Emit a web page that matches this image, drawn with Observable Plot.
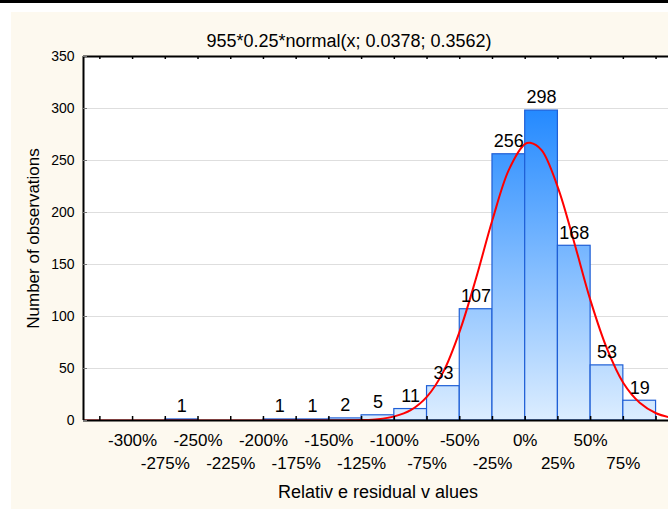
<!DOCTYPE html>
<html>
<head>
<meta charset="utf-8">
<script src="https://cdn.jsdelivr.net/npm/d3@7"></script>
<script src="https://cdn.jsdelivr.net/npm/@observablehq/plot@0.6"></script>
<style>
  body { margin: 0; background: #fff; }
  #wrap { position: relative; width: 668px; height: 509px; background: #fff; overflow: hidden; }
  #topbar { position: absolute; left: 0; top: 0; width: 668px; height: 3px; background: #000; }
  #panel { position: absolute; left: 11px; top: 12px; width: 657px; height: 497px; background: #fdf9ef; }
  #chart { position: absolute; left: 0; top: 0; }
</style>
</head>
<body>
<div id="wrap">
  <div id="topbar"></div>
  <div id="panel"></div>
  <div id="chart"></div>
</div>
<script>
// ---- data (percent units) ----
const binLow  = [-275, -200, -175, -150, -125, -100, -75, -50, -25, 0, 25, 50, 75];
const binHigh = [-250, -175, -150, -125, -100, -75, -50, -25, 0, 25, 50, 75, 100];
const counts  = [1, 1, 1, 2, 5, 11, 33, 107, 256, 298, 168, 53, 19];

// fitted normal curve
const curveX = [-337.5, -200, -175, -150, -137.5, -125, -112.5, -100, -87.5, -75, -62.5, -50, -37.5, -25, -12.5, 0, 3.8, 12.5, 25, 37.5, 50, 62.5, 75, 87.5, 100, 112.5];
const curveY = [0, 0, 0, 0, 0.1, 0.4, 1.3, 4, 10, 23, 47, 86, 137, 193, 241, 266, 267, 260, 224, 171, 115, 69, 36, 17, 7, 2.5];

const yTicks = [0, 50, 100, 150, 200, 250, 300, 350];
const gridTicks = [50, 100, 150, 200, 250, 300];
const xTickPos = [-325, -300, -275, -250, -225, -200, -175, -150, -125, -100, -75, -50, -25, 0, 25, 50, 75, 100];
const xLabelsRow1 = [-300, -250, -200, -150, -100, -50, 0, 50];
const xLabelsRow2 = [-275, -225, -175, -125, -75, -25, 25, 75];
const xDomain = [-337.5, 109.5];
const yDomain = [0, 350];

const titleText = "955*0.25*normal(x; 0.0378; 0.3562)";
const xTitle = "Relativ e residual v alues";
const yTitle = "Number of observations";

const bins = binLow.map((lo, i) => ({lo, hi: binHigh[i], n: counts[i]}));
const curve = curveX.map((x, i) => ({x, y: curveY[i]}));

const chart = Plot.plot({
  width: 668,
  height: 509,
  marginTop: 56,
  marginLeft: 83,
  marginRight: 0,
  marginBottom: 89,
  x: {domain: xDomain},
  y: {domain: yDomain},
  style: {background: "transparent", fontFamily: "'Liberation Sans', Arial, sans-serif", color: "#000"},
  marks: [
    Plot.frame({fill: "white", stroke: null}),
    Plot.ruleY(gridTicks, {stroke: "#dedede", strokeWidth: 1}),
    Plot.rectY(bins, {x1: "lo", x2: "hi", y: "n", fill: "url(#barGrad)", stroke: "#1f5fd6", strokeWidth: 1.2}),
    Plot.line(curve, {x: "x", y: "y", stroke: "#ff0000", strokeWidth: 2, curve: "catmull-rom", clip: true}),
    Plot.ruleY([yDomain[0]], {stroke: "#000", strokeWidth: 2}),
    Plot.ruleY([yDomain[1]], {stroke: "#000", strokeWidth: 2}),
    Plot.ruleX([xDomain[0]], {stroke: "#000", strokeWidth: 2}),
    Plot.tickX(xTickPos, {x: d => d, insetTop: 360, stroke: "#000", strokeWidth: 1.5}),
    Plot.tickX(xTickPos, {x: d => d, insetBottom: 361, stroke: "#000", strokeWidth: 1.5}),
    Plot.tickY(yTicks, {y: d => d, insetRight: 581, stroke: "#777", strokeWidth: 1}),
    Plot.axisY(yTicks, {tickSize: 0, tickPadding: 9, fontSize: 14, label: null}),
    Plot.axisX(xLabelsRow1, {tickSize: 0, tickPadding: 13, fontSize: 17, tickFormat: d => d + "%", label: null}),
    Plot.axisX(xLabelsRow2, {tickSize: 0, tickPadding: 36, fontSize: 17, tickFormat: d => d + "%", label: null}),
    Plot.text(bins, {x: d => (d.lo + d.hi) / 2, y: "n", text: d => String(d.n), dy: -13, fontSize: 18, fill: "#000"}),
    Plot.text([titleText], {text: d => d, frameAnchor: "top", dx: -27, dy: -22, fontSize: 18, fill: "#000"}),
    Plot.text([xTitle], {text: d => d, frameAnchor: "bottom", dx: 2, dy: 77, fontSize: 18, fill: "#000"}),
    Plot.text([yTitle], {text: d => d, frameAnchor: "left", textAnchor: "middle", dx: -50, rotate: -90, fontSize: 17, fill: "#000"})
  ]
});

// gradient for bars, in plot coordinates
const ys = chart.scale("y");
const svgNS = "http://www.w3.org/2000/svg";
const defs = document.createElementNS(svgNS, "defs");
const grad = document.createElementNS(svgNS, "linearGradient");
grad.setAttribute("id", "barGrad");
grad.setAttribute("gradientUnits", "userSpaceOnUse");
grad.setAttribute("x1", 0); grad.setAttribute("x2", 0);
grad.setAttribute("y1", ys.apply(300)); grad.setAttribute("y2", ys.apply(0));
[["0%", "#2389ff"], ["100%", "#dcedff"]].forEach(([o, c]) => {
  const s = document.createElementNS(svgNS, "stop");
  s.setAttribute("offset", o); s.setAttribute("stop-color", c);
  grad.appendChild(s);
});
defs.appendChild(grad);
chart.insertBefore(defs, chart.firstChild);

document.getElementById("chart").appendChild(chart);
</script>
</body>
</html>
